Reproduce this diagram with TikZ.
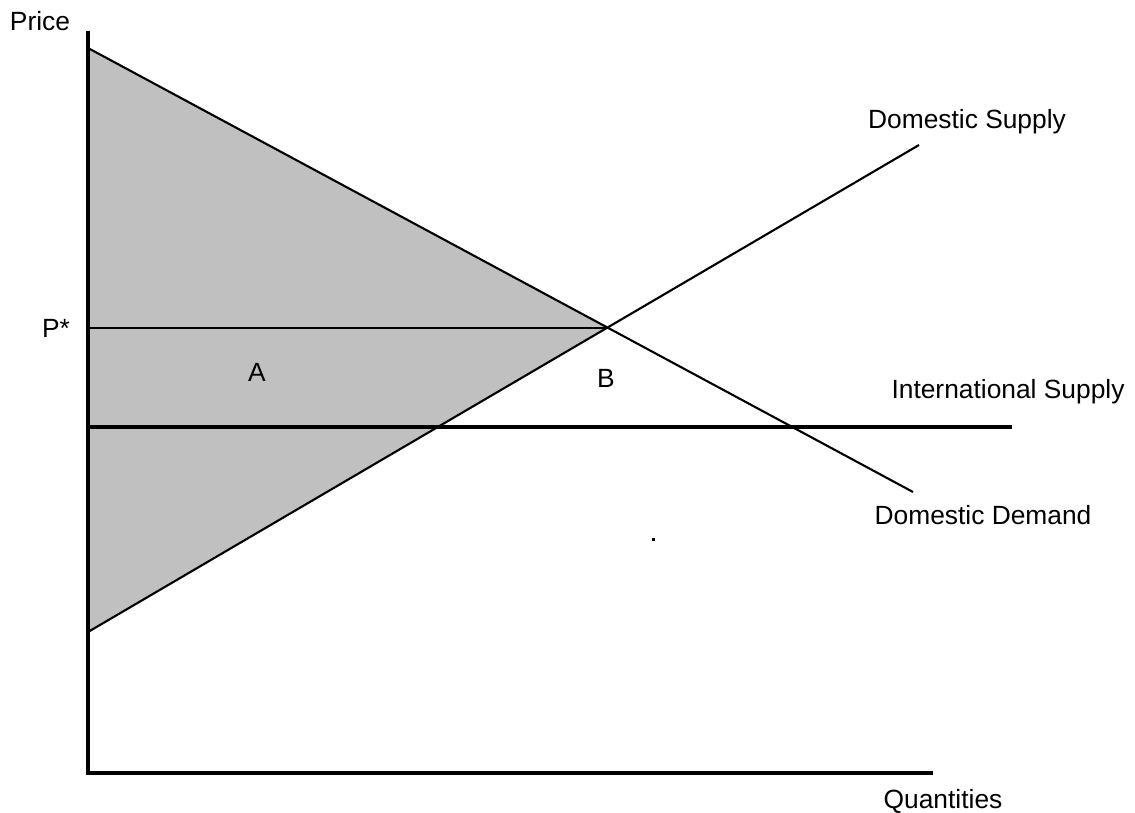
\documentclass[tikz,border=0pt]{standalone}
\usepackage{fontspec}
\setmainfont{Liberation Sans}
\usepackage{xcolor}
\usepackage{tikz}
\definecolor{surplus}{RGB}{192,192,192}
\tikzset{>=latex}
\tikzset{
  lbl/.style={inner sep=0pt, font=\fontsize{15}{18}\selectfont},
  axis/.style={line width=2.3pt, line join=miter},
  curve/.style={line width=1.2pt}
}

\begin{document}
\begin{tikzpicture}[x=0.02cm,y=-0.02cm]
\useasboundingbox (0,0) rectangle (1135,813);
  % points of the diagram
  \coordinate (ytop) at (88,31);
  \coordinate (origin) at (88,773);
  \coordinate (xend) at (933,773);
  \coordinate (dtop) at (88,48);
  \coordinate (dend) at (913,492);
  \coordinate (sbot) at (88,632);
  \coordinate (send) at (919,145);
  \coordinate (eq) at (607,328);
  \coordinate (pstar) at (88,328);
  \coordinate (wleft) at (88,427);
  \coordinate (wright) at (1012,427);

  % shaded surplus
  \fill[surplus] (dtop) -- (eq) -- (sbot) -- cycle;

  % curves
  \draw[curve] (dtop) -- (dend);
  \draw[curve] (sbot) -- (send);
  \draw[line width=0.8pt] (pstar) -- (eq);
  \draw[line width=2pt] (wleft) -- (wright);

  % axes
  \draw[axis] (ytop) -- (origin) -- (xend);

  % labels
  \node[lbl] (price) at (40,21) {Price};
  \node[lbl] (pstarlbl) at (56,328) {P*};
  \node[lbl] (areaA) at (257,372) {A};
  \node[lbl] (areaB) at (606,378) {B};
  \node[lbl] (dsupply) at (967,122) {Domestic Supply};
  \node[lbl] (isupply) at (1008,392) {International Supply};
  \node[lbl] (ddemand) at (983,515) {Domestic Demand};
  \node[lbl] (qty) at (943,801) {Quantities};
  \fill (651.5,537.5) rectangle (654.5,540.5);
\end{tikzpicture}
\end{document}
